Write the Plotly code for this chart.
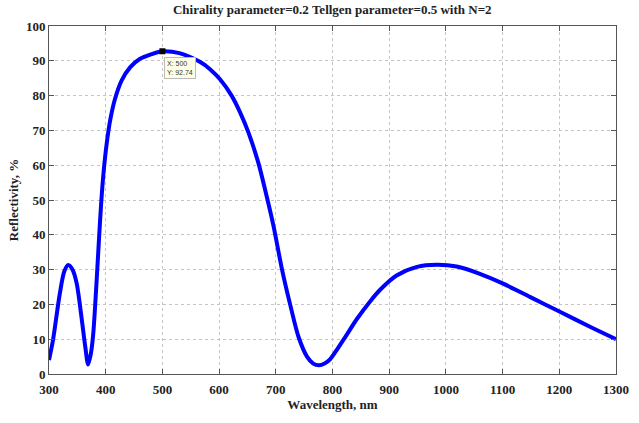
import plotly.graph_objects as go

wavelength = [300, 307, 319, 327, 334, 342, 349, 358, 364, 369, 374, 378, 383, 388, 392, 396, 402, 408, 416,
              428, 443, 460, 481, 500, 530, 566, 584, 602, 622, 637, 652, 669, 684, 696, 711, 726, 740,
              755, 766, 776, 786, 796, 820, 843, 867, 884, 913, 949, 984, 1019, 1060, 1102, 1149, 1202,
              1255, 1300]
reflectivity = [4.0, 9.7, 23.0, 29.5, 31.3, 29.8, 25.9, 15.4, 7.8, 2.7, 6.0, 11.5, 24.0, 38.3, 49.0, 57.5, 66.5, 73.0, 78.8,
                84.3, 88.1, 90.5, 91.9, 92.74, 92.2, 89.7, 87.6, 84.6, 80.0, 75.2, 69.3, 60.8, 51.0, 42.5, 30.0, 19.5, 10.7,
                5.0, 3.0, 2.5, 3.0, 4.3, 10.0, 15.8, 21.0, 24.2, 28.3, 30.8, 31.4, 30.9, 28.8, 25.9, 22.1, 17.8,
                13.5, 10.0]
x_ticks = [300, 400, 500, 600, 700, 800, 900, 1000, 1100, 1200, 1300]
y_ticks = [0, 10, 20, 30, 40, 50, 60, 70, 80, 90, 100]
tip_x, tip_y = 500, 92.74

FONT = "Liberation Serif"

fig = go.Figure()
fig.add_trace(go.Scatter(x=wavelength, y=reflectivity, mode="lines",
                         line=dict(color="#0000ff", width=4, shape="spline", smoothing=0.8),
                         hoverinfo="skip"))
fig.add_trace(go.Scatter(x=[tip_x], y=[tip_y], mode="markers",
                         marker=dict(symbol="square", size=6, color="black"),
                         hoverinfo="skip"))
fig.add_annotation(x=tip_x, y=tip_y, text=f"X: {tip_x}<br>Y: {tip_y}", showarrow=False,
                   xanchor="left", yanchor="top", xshift=2, yshift=-6, align="left",
                   font=dict(family="Liberation Sans", size=7, color="#333333"),
                   bgcolor="#ffffe6", bordercolor="#bbbbbb", borderwidth=1, borderpad=2)

axis_common = dict(showline=True, linecolor="#555555", linewidth=1, mirror="ticks",
                   ticks="inside", ticklen=5, tickcolor="#555555",
                   showgrid=True, gridcolor="#c4c4c4", griddash="dot", gridwidth=1,
                   zeroline=False, automargin=False,
                   tickfont=dict(family=FONT, size=13, color="#222222", weight="bold"))

fig.update_layout(
    width=639, height=423,
    margin=dict(l=49, r=23, t=26, b=49),
    paper_bgcolor="white", plot_bgcolor="white",
    showlegend=False,
    title=dict(text="Chirality parameter=0.2 Tellgen parameter=0.5 with N=2",
               x=0.52, xanchor="center", y=0.988, yanchor="top",
               font=dict(family=FONT, size=13, color="#222222", weight="bold")),
    xaxis=dict(range=[300, 1300], tickvals=x_ticks, ticklabelstandoff=3,
               title=dict(text="Wavelength, nm", standoff=4,
                          font=dict(family=FONT, size=13, color="#222222", weight="bold")),
               **axis_common),
    yaxis=dict(range=[0, 100], tickvals=y_ticks,
               title=dict(text="Reflectivity, %", standoff=4,
                          font=dict(family=FONT, size=13, color="#222222", weight="bold")),
               **axis_common),
)

fig.write_html("out.html")
